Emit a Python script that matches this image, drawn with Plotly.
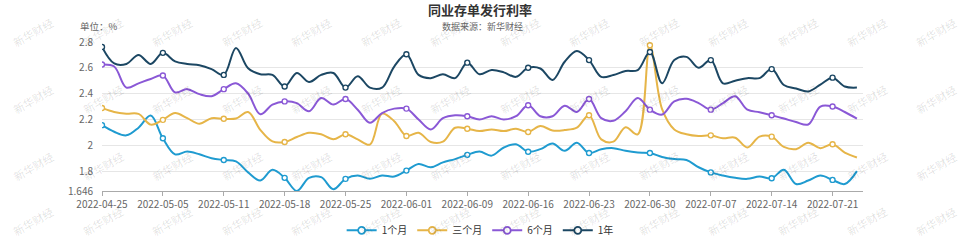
import plotly.graph_objects as go

dates = [
    "2022-04-25", "2022-04-26", "2022-04-27", "2022-04-28", "2022-04-29",
    "2022-05-05", "2022-05-06", "2022-05-07", "2022-05-09", "2022-05-10",
    "2022-05-11", "2022-05-12", "2022-05-13", "2022-05-16", "2022-05-17",
    "2022-05-18", "2022-05-19", "2022-05-20", "2022-05-23", "2022-05-24",
    "2022-05-25", "2022-05-26", "2022-05-27", "2022-05-30", "2022-05-31",
    "2022-06-01", "2022-06-02", "2022-06-06", "2022-06-07", "2022-06-08",
    "2022-06-09", "2022-06-10", "2022-06-13", "2022-06-14", "2022-06-15",
    "2022-06-16", "2022-06-17", "2022-06-20", "2022-06-21", "2022-06-22",
    "2022-06-23", "2022-06-24", "2022-06-27", "2022-06-28", "2022-06-29",
    "2022-06-30", "2022-07-01", "2022-07-04", "2022-07-05", "2022-07-06",
    "2022-07-07", "2022-07-08", "2022-07-11", "2022-07-12", "2022-07-13",
    "2022-07-14", "2022-07-15", "2022-07-18", "2022-07-19", "2022-07-20",
    "2022-07-21", "2022-07-22", "2022-07-25",
]

m1 = [
    2.156, 2.105, 2.077, 2.136, 2.23, 2.054, 1.93, 1.952, 1.93, 1.90,
    1.886, 1.875, 1.79, 1.727, 1.81, 1.748, 1.646, 1.748, 1.753, 1.66,
    1.74, 1.766, 1.74, 1.766, 1.758, 1.804, 1.855, 1.83, 1.868, 1.893,
    1.926, 1.952, 1.92, 1.983, 2.008, 1.95, 1.97, 2.013, 1.957, 2.02,
    1.94, 1.97, 1.978, 1.957, 1.944, 1.94, 1.91, 1.893, 1.886, 1.83,
    1.79, 1.766, 1.748, 1.74, 1.758, 1.745, 1.81, 1.70, 1.727, 1.766,
    1.732, 1.70, 1.80,
]

m3 = [
    2.289, 2.258, 2.245, 2.243, 2.16, 2.197, 2.25, 2.21, 2.167, 2.21,
    2.205, 2.207, 2.258, 2.12, 2.03, 2.025, 2.064, 2.097, 2.085, 2.046,
    2.085, 2.046, 2.005, 2.245, 2.187, 2.072, 2.097, 2.026, 2.028, 2.136,
    2.128, 2.11, 2.123, 2.11, 2.128, 2.103, 2.149, 2.115, 2.118, 2.136,
    2.233, 2.046, 2.028, 2.14, 2.085, 2.775, 2.28, 2.123, 2.085, 2.072,
    2.077, 2.054, 2.059, 1.983, 2.067, 2.067, 1.987, 1.97, 2.02, 1.978,
    2.008, 1.944, 1.906,
]

m6 = [
    2.626, 2.61, 2.447, 2.48, 2.514, 2.54, 2.41, 2.435, 2.396, 2.38,
    2.435, 2.48, 2.40, 2.24, 2.315, 2.34, 2.327, 2.264, 2.366, 2.315,
    2.358, 2.276, 2.174, 2.25, 2.284, 2.284, 2.20, 2.123, 2.21, 2.233,
    2.225, 2.20, 2.225, 2.20, 2.225, 2.31, 2.225, 2.225, 2.307, 2.258,
    2.358, 2.21, 2.19, 2.264, 2.366, 2.276, 2.238, 2.34, 2.36, 2.327,
    2.276, 2.327, 2.38, 2.276, 2.256, 2.233, 2.207, 2.18, 2.161, 2.30,
    2.30, 2.258, 2.207,
]

y1 = [
    2.762, 2.634, 2.63, 2.70, 2.63, 2.716, 2.65, 2.63, 2.62, 2.59,
    2.545, 2.754, 2.596, 2.55, 2.545, 2.455, 2.56, 2.49, 2.545, 2.56,
    2.447, 2.535, 2.447, 2.447, 2.61, 2.705, 2.545, 2.52, 2.55, 2.52,
    2.64, 2.55, 2.583, 2.565, 2.53, 2.60, 2.595, 2.506, 2.647, 2.73,
    2.66, 2.53, 2.545, 2.575, 2.583, 2.723, 2.48, 2.66, 2.685, 2.60,
    2.66, 2.48, 2.50, 2.52, 2.52, 2.59, 2.467, 2.44, 2.417, 2.47,
    2.524, 2.455, 2.447,
]

series_names = ["1个月", "三个月", "6个月", "1年"]
series_values = [m1, m3, m6, y1]
series_colors = ["#1f9bd0", "#e6b548", "#8a58d6", "#1c4763"]

y_tickvals = [1.646, 1.8, 2.0, 2.2, 2.4, 2.6, 2.8]
y_ticktext = ["1.646", "1.8", "2", "2.2", "2.4", "2.6", "2.8"]
x_tickvals = dates[::5]

FONT = "Noto Sans CJK SC, Noto Sans, sans-serif"
W, H = 959, 240
ML, MR, MT, MB = 101.7, 96, 41.7, 48.5
PW, PH = W - ML - MR, H - MT - MB


def px_to_paper(x, y):
    return (x - ML) / PW, (H - MB - y) / PH


fig = go.Figure()
for name, vals, col in zip(series_names, series_values, series_colors):
    fig.add_trace(go.Scatter(
        x=dates, y=vals, mode="lines", name=name, legendgroup=name,
        showlegend=False, line=dict(color=col, width=2, shape="spline", smoothing=1.0),
        hoverinfo="skip",
    ))
    fig.add_trace(go.Scatter(
        x=dates[::5], y=vals[::5], mode="markers", name=name, legendgroup=name,
        showlegend=False,
        marker=dict(symbol="circle", size=5, color="white", line=dict(color=col, width=1.4)),
        hoverinfo="skip",
    ))
    fig.add_trace(go.Scatter(
        x=[None], y=[None], mode="lines+markers", name=name, legendgroup=name,
        showlegend=True, line=dict(color=col, width=2),
        marker=dict(symbol="circle", size=7, color="white", line=dict(color=col, width=1.8)),
    ))

annotations = []
# watermarks (tiled, faint, rotated)
for yy in [32, 99, 166, 222]:
    for k in range(15):
        xx = 33 + 69.5 * k
        if xx > W - 20:
            break
        px, py = px_to_paper(xx, yy)
        annotations.append(dict(
            x=px, y=py, xref="paper", yref="paper", text="新华财经", showarrow=False,
            textangle=-30, font=dict(family=FONT, size=11, color="rgba(0,0,0,0.13)"),
            xanchor="center", yanchor="middle",
        ))

tx, ty = px_to_paper(480, 9)
annotations.append(dict(x=tx, y=ty, xref="paper", yref="paper", text="<b>同业存单发行利率</b>",
                        showarrow=False, font=dict(family=FONT, size=13, color="#333"),
                        xanchor="center", yanchor="middle"))
sx, sy = px_to_paper(482, 26)
annotations.append(dict(x=sx, y=sy, xref="paper", yref="paper", text="数据来源：新华财经",
                        showarrow=False, font=dict(family=FONT, size=9, color="#666"),
                        xanchor="center", yanchor="middle"))
ux, uy = px_to_paper(78, 26)
annotations.append(dict(x=ux, y=uy, xref="paper", yref="paper", text="单位：%",
                        showarrow=False, font=dict(family=FONT, size=9.5, color="#666"),
                        xanchor="left", yanchor="middle"))

lx, ly = px_to_paper(480, 231)

fig.update_layout(
    width=W, height=H,
    margin=dict(l=ML, r=MR, t=MT, b=MB, pad=0, autoexpand=False),
    paper_bgcolor="white", plot_bgcolor="white",
    font=dict(family=FONT, size=10, color="#666"),
    showlegend=True,
    legend=dict(orientation="h", x=lx, y=ly, xanchor="center", yanchor="middle",
                font=dict(family=FONT, size=10, color="#333"), bgcolor="rgba(0,0,0,0)"),
    annotations=annotations,
    xaxis=dict(
        type="category", categoryorder="array", categoryarray=dates,
        range=[0, 62.5], tickmode="array", tickvals=x_tickvals, ticktext=x_tickvals,
        showgrid=False, showline=True, linecolor="#aaa", linewidth=1,
        ticks="outside", ticklen=4, tickcolor="#aaa",
        tickfont=dict(family=FONT, size=10, color="#666"), zeroline=False, fixedrange=True,
    ),
    yaxis=dict(
        range=[1.646, 2.8], tickmode="array", tickvals=y_tickvals, ticktext=y_ticktext,
        showgrid=True, gridcolor="#e6e6e6", gridwidth=1, showline=False, zeroline=False,
        ticks="", ticklabelstandoff=8,
        tickfont=dict(family=FONT, size=10, color="#666"), fixedrange=True,
    ),
)

fig.write_html("out.html")
